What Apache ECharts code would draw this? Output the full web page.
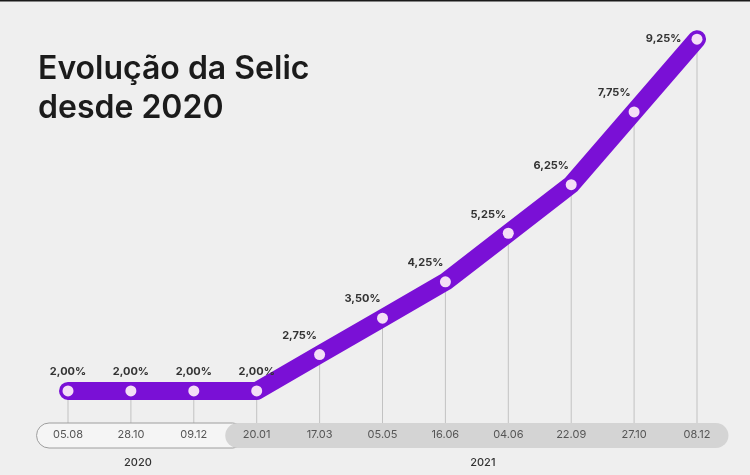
<!DOCTYPE html>
<html>
<head>
<meta charset="utf-8">
<script src="https://cdn.jsdelivr.net/npm/echarts@6/dist/echarts.min.js"></script>
<style>
  html, body { margin: 0; padding: 0; background: #efefef; }
  #chart { width: 750px; height: 475px; }
</style>
</head>
<body>
<div id="chart"></div>
<script>
  // Selic rate decisions (Copom meetings)
  const dates = ['05.08', '28.10', '09.12', '20.01', '17.03', '05.05', '16.06', '04.06', '22.09', '27.10', '08.12'];
  const selic = [2.00, 2.00, 2.00, 2.00, 2.75, 3.50, 4.25, 5.25, 6.25, 7.75, 9.25];
  const years = ['2020', '2021'];
  const yearStart = [0, 3]; // first category index of each year

  const PURPLE = '#7a10d6';

  const chartDom = document.getElementById('chart');
  const myChart = echarts.init(chartDom, null, { renderer: 'canvas' });

  const fmt = v => v.toFixed(2).replace('.', ',') + '%';

  const lineData = selic.map((v, i) => {
    const rising = i > 0 && v > selic[i - 1];
    const last = i === selic.length - 1;
    return {
      value: v,
      label: last
        ? { position: 'left', distance: 10 }
        : { position: 'top', distance: 8, offset: rising ? [-20, 0] : [0, 0] }
    };
  });

  const option = {
    backgroundColor: '#efefef',
    animation: false,
    title: {
      text: 'Evolução da Selic\ndesde 2020',
      left: 33,
      top: 45,
      textStyle: {
        fontFamily: 'Inter',
        fontSize: 32,
        fontWeight: 600,
        lineHeight: 39,
        color: '#1b1b1b'
      }
    },
    grid: { left: 68, right: 53, top: 27, bottom: 52 },
    xAxis: {
      type: 'category',
      data: dates,
      boundaryGap: false,
      z: 10,
      axisLine: { show: false },
      axisTick: { show: false },
      axisLabel: {
        margin: 6,
        fontFamily: 'Inter',
        fontSize: 11,
        color: '#555'
      }
    },
    yAxis: {
      type: 'value',
      min: 1.34,
      max: 9.5,
      show: false,
      splitLine: { show: false }
    },
    series: [
      {
        type: 'bar',
        data: selic,
        barWidth: 1,
        silent: true,
        z: 1,
        itemStyle: { color: '#c2c2c2' }
      },
      {
        type: 'line',
        data: lineData,
        z: 5,
        symbol: 'circle',
        symbolSize: 11,
        lineStyle: { color: PURPLE, width: 18, cap: 'round', join: 'round' },
        itemStyle: { color: '#f4def6', borderWidth: 0 },
        emphasis: { disabled: true },
        label: {
          show: true,
          formatter: p => fmt(p.value),
          fontFamily: 'Inter',
          fontSize: 11,
          fontWeight: 'bold',
          color: '#333'
        }
      }
    ]
  };

  myChart.setOption(option);

  // pill under the x axis, split by year
  const px = dates.map(d => myChart.convertToPixel({ xAxisIndex: 0 }, d));
  const step = px[1] - px[0];
  const pillTop = 423, pillH = 25;
  const left = px[0] - step / 2;
  const right = px[px.length - 1] + step / 2;
  const split = (px[yearStart[1] - 1] + px[yearStart[1]]) / 2;

  myChart.setOption({
    graphic: [
      {
        type: 'rect', z: 0,
        shape: { x: 0, y: 0, width: 750, height: 1.5 },
        style: { fill: '#1a1a1a' }
      },
      {
        type: 'rect', z: 2,
        shape: { x: left, y: pillTop, width: split - left + 20, height: pillH, r: pillH / 2 },
        style: { fill: '#f5f5f5', stroke: '#9e9e9e', lineWidth: 1 }
      },
      {
        type: 'rect', z: 3,
        shape: { x: split, y: pillTop, width: right - split, height: pillH, r: pillH / 2 },
        style: { fill: '#d4d4d4' }
      },
      {
        type: 'text', z: 3,
        x: (left + split) / 2 + 7, y: 463,
        style: { text: years[0], fontFamily: 'Inter', fontSize: 11, fontWeight: 500, fill: '#333', align: 'center', verticalAlign: 'middle' }
      },
      {
        type: 'text', z: 3,
        x: (split + right) / 2 + 6, y: 463,
        style: { text: years[1], fontFamily: 'Inter', fontSize: 11, fontWeight: 500, fill: '#333', align: 'center', verticalAlign: 'middle' }
      }
    ]
  });

  window.addEventListener('resize', () => myChart.resize());
</script>
</body>
</html>
